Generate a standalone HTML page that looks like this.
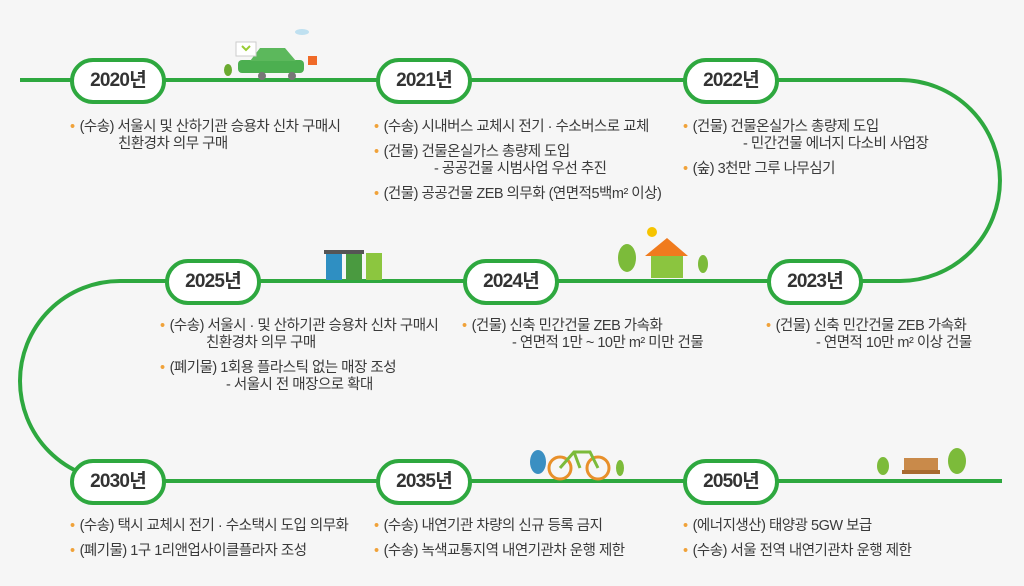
<!DOCTYPE html>
<html><head><meta charset="utf-8"><style>
body{margin:0;width:1024px;height:586px;background:#f6f6f6;position:relative;overflow:hidden;font-family:"Liberation Sans","Noto Sans CJK KR",sans-serif;color:#3a3a3a}
.pill{position:absolute;width:88px;height:38px;border:4px solid #2ea83f;border-radius:23px;background:#fff;text-align:center;line-height:38px;font-size:19px;font-weight:bold;color:#333;letter-spacing:-0.8px}
.t{position:absolute;font-size:14.5px;line-height:17px;letter-spacing:-0.5px;white-space:nowrap}
.t p{margin:0 0 8px 0}
.b{color:#f0a23a;margin-right:5px}
.s{display:block}
</style></head><body>
<svg width="1024" height="586" style="position:absolute;left:0;top:0">
<g fill="none" stroke="#2ea83f" stroke-width="4">
<path d="M20 80 H900 A100 100.5 0 0 1 900 281 H120 A100 100 0 0 0 120 481 H1002"/>
</g>
<rect x="238" y="60" width="66" height="13" rx="4" fill="#4caf50"/>
<path d="M250 61 L260 48 H285 L296 61 Z" fill="#5cb85c"/>
<circle cx="262" cy="76" r="4" fill="#777"/><circle cx="292" cy="76" r="4" fill="#777"/>
<ellipse cx="228" cy="70" rx="4" ry="6" fill="#6aaa30"/>
<rect x="236" y="42" width="20" height="14" fill="#fff" stroke="#ccc"/>
<path d="M242 46 l4 4 4-4" stroke="#9c3" stroke-width="2" fill="none"/>
<rect x="308" y="56" width="9" height="9" fill="#f06a28"/>
<ellipse cx="302" cy="32" rx="7" ry="3" fill="#bfe0f0"/>
<rect x="326" y="253" width="16" height="27" fill="#2f8fc2"/><rect x="346" y="253" width="16" height="27" fill="#4a9a40"/><rect x="366" y="253" width="16" height="27" fill="#8cc63f"/>
<rect x="324" y="250" width="20" height="4" fill="#555"/><rect x="344" y="250" width="20" height="4" fill="#555"/>
<circle cx="652" cy="232" r="5" fill="#f6c400"/>
<path d="M645 256 L667 238 L688 256 Z" fill="#f07b1e"/><rect x="651" y="256" width="32" height="22" fill="#8bc53f"/>
<ellipse cx="627" cy="258" rx="9" ry="14" fill="#7cbb3a"/><ellipse cx="703" cy="264" rx="5" ry="9" fill="#7cbb3a"/>
<circle cx="560" cy="468" r="11" fill="none" stroke="#e8902a" stroke-width="3"/><circle cx="598" cy="468" r="11" fill="none" stroke="#e8902a" stroke-width="3"/>
<path d="M560 468 L574 452 L590 452 L598 468 M574 452 L580 468" stroke="#7cbb3a" stroke-width="3" fill="none"/>
<ellipse cx="538" cy="462" rx="8" ry="12" fill="#3a8fc2"/><ellipse cx="620" cy="468" rx="4" ry="8" fill="#7cbb3a"/>
<rect x="904" y="458" width="34" height="14" fill="#c98a4a"/><rect x="902" y="470" width="38" height="4" fill="#a86b30"/>
<ellipse cx="883" cy="466" rx="6" ry="9" fill="#7cbb3a"/><ellipse cx="957" cy="461" rx="9" ry="13" fill="#7cbb3a"/>
</svg>
<div class="pill" style="left:70px;top:58px">2020년</div>
<div class="pill" style="left:376px;top:58px">2021년</div>
<div class="pill" style="left:683px;top:58px">2022년</div>
<div class="pill" style="left:165px;top:259px">2025년</div>
<div class="pill" style="left:463px;top:259px">2024년</div>
<div class="pill" style="left:767px;top:259px">2023년</div>
<div class="pill" style="left:70px;top:459px">2030년</div>
<div class="pill" style="left:376px;top:459px">2035년</div>
<div class="pill" style="left:683px;top:459px">2050년</div>

<div class="t" style="left:70px;top:119px"><p><span class="b">•</span>(수송) 서울시 및 산하기관 승용차 신차 구매시<span class="s" style="padding-left:48px">친환경차 의무 구매</span></p></div>
<div class="t" style="left:374px;top:119px"><p><span class="b">•</span>(수송) 시내버스 교체시 전기 · 수소버스로 교체</p><p><span class="b">•</span>(건물) 건물온실가스 총량제 도입<span class="s" style="padding-left:60px">- 공공건물 시범사업 우선 추진</span></p><p><span class="b">•</span>(건물) 공공건물 ZEB 의무화 (연면적5백m² 이상)</p></div>
<div class="t" style="left:683px;top:119px"><p><span class="b">•</span>(건물) 건물온실가스 총량제 도입<span class="s" style="padding-left:60px">- 민간건물 에너지 다소비 사업장</span></p><p><span class="b">•</span>(숲) 3천만 그루 나무심기</p></div>
<div class="t" style="left:160px;top:318px"><p><span class="b">•</span>(수송) 서울시 ·  및 산하기관 승용차 신차 구매시<span class="s" style="padding-left:46px">친환경차 의무 구매</span></p><p><span class="b">•</span>(폐기물) 1회용 플라스틱 없는 매장 조성<span class="s" style="padding-left:66px">- 서울시 전 매장으로 확대</span></p></div>
<div class="t" style="left:462px;top:318px"><p><span class="b">•</span>(건물) 신축 민간건물 ZEB 가속화<span class="s" style="padding-left:50px">- 연면적 1만 ~ 10만 m² 미만 건물</span></p></div>
<div class="t" style="left:766px;top:318px"><p><span class="b">•</span>(건물) 신축 민간건물 ZEB 가속화<span class="s" style="padding-left:50px">- 연면적 10만 m² 이상 건물</span></p></div>
<div class="t" style="left:70px;top:518px"><p><span class="b">•</span>(수송) 택시 교체시 전기 ·  수소택시 도입 의무화</p><p><span class="b">•</span>(폐기물) 1구 1리앤업사이클플라자 조성</p></div>
<div class="t" style="left:374px;top:518px"><p><span class="b">•</span>(수송) 내연기관 차량의 신규 등록 금지</p><p><span class="b">•</span>(수송) 녹색교통지역 내연기관차 운행 제한</p></div>
<div class="t" style="left:683px;top:518px"><p><span class="b">•</span>(에너지생산) 태양광 5GW 보급</p><p><span class="b">•</span>(수송) 서울 전역 내연기관차 운행 제한</p></div>
</body></html>
